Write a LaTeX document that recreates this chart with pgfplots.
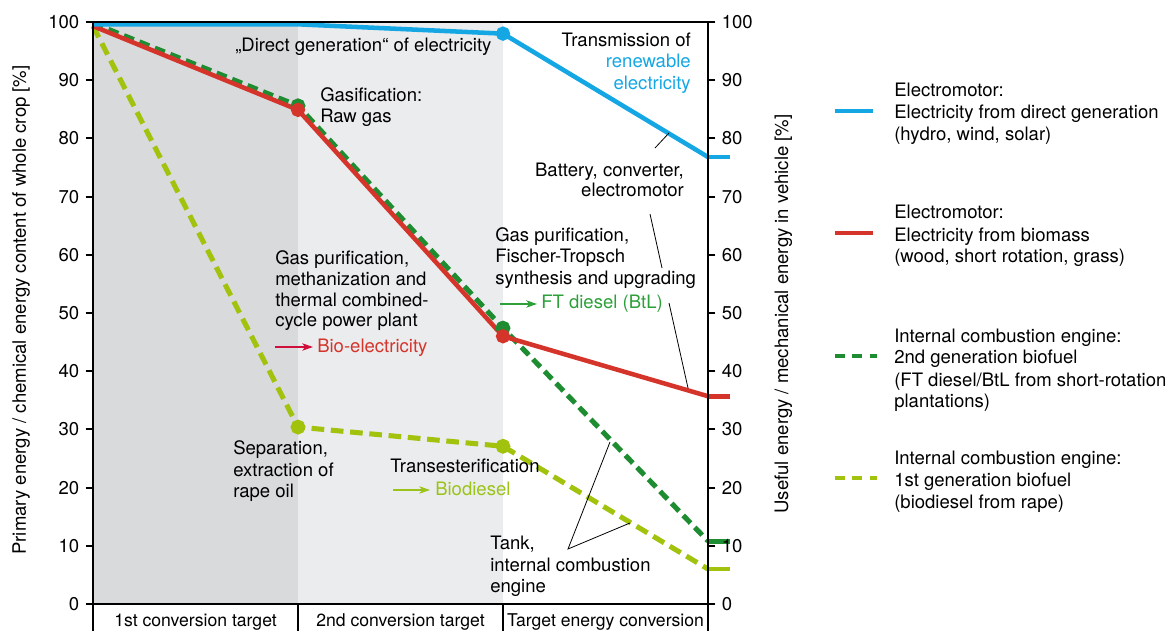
\documentclass[border=0pt]{standalone}
\usepackage{fontspec}
\setmainfont{TeX Gyre Heros}
\usepackage{pgfplots}
\pgfplotsset{compat=1.18}
\usetikzlibrary{arrows.meta}

\definecolor{cblue}{RGB}{20,167,228}
\definecolor{cred}{RGB}{213,52,42}
\definecolor{cdkgreen}{RGB}{30,140,48}
\definecolor{cltgreen}{RGB}{162,195,14}
\definecolor{bgdark}{RGB}{217,218,220}
\definecolor{bglight}{RGB}{235,236,238}
\definecolor{arrred}{RGB}{208,16,60}
\definecolor{ftgreen}{RGB}{45,160,58}
\definecolor{biogreen}{RGB}{155,195,25}

\newcommand\mainfont{\fontsize{13.9pt}{16.5pt}\selectfont}

\pgfplotsset{
  frame/.style={
    at={(0,0)}, anchor=south west,
    scale only axis, width=461.25pt, height=436.5pt,
    xmin=0, xmax=3, ymin=0, ymax=100,
    xtick=\empty, ytick={0,10,...,100},
    tick align=outside, major tick length=5.5pt,
    tick style={black, line width=1.5pt},
    axis line style={black, line width=2.2pt},
    tick label style={font=\mainfont, /pgf/number format/assume math mode=true},
  },
  series/.style={line width=3.4pt, mark=*, mark indices={2,3}, mark size=3.6pt, mark options={solid}},
  stub/.style={line width=3.6pt, forget plot},
}

\begin{document}
\mainfont
\begin{tikzpicture}
\path[use as bounding box] (-69.75pt,-20.25pt) rectangle (810.75pt,453pt);

\begin{axis}[frame, ytick pos=left, axis on top, clip=false]
  \fill[bgdark] (axis cs:0,0) rectangle (axis cs:1,100);
  \fill[bglight] (axis cs:1,0) rectangle (axis cs:2,100);

  % 1st generation biofuel (biodiesel from rape)
  \addplot[series, cltgreen, line width=3.8pt, dash pattern=on 9.5pt off 5pt] coordinates {(0,99.3) (1,30.4) (2,27.1) (3,6.0)};
  \addplot[stub, cltgreen] coordinates {(3,6.0) (3.107,6.0)};
  % 2nd generation biofuel (FT diesel / BtL)
  \addplot[series, cdkgreen, line width=3.8pt, dash pattern=on 8pt off 4.5pt] coordinates {(0,99.8) (1,85.6) (2,47.4) (3,10.8)};
  \addplot[stub, cdkgreen] coordinates {(3,10.8) (3.107,10.8)};
  % electricity from biomass
  \addplot[series, cred] coordinates {(0,99.3) (1,84.9) (2,46.0) (3,35.7)};
  \addplot[stub, cred] coordinates {(3,35.7) (3.107,35.7)};
  % electricity from direct generation
  \addplot[series, cblue, mark indices={3}] coordinates {(0,99.6) (1,99.6) (2,98.0) (3,76.8)};
  \addplot[stub, cblue] coordinates {(3,76.8) (3.107,76.8)};
\end{axis}

\begin{axis}[frame, axis x line=none, axis y line*=right]
  \addplot[draw=none] coordinates {(0,0)};
\end{axis}

% annotations, coordinates in pixels of the 1174x631 layout
\begin{scope}[x=0.75pt, y=-0.75pt, shift={(-69.75pt,453pt)}, every node/.style={inner sep=0pt}]
  % conversion stage boxes
  \foreach \xx in {93,298,503,708} \draw[line width=1.4pt] (\xx,604) -- (\xx,640);
  \begin{scope}[every node/.style={inner sep=0pt, anchor=base, font=\fontsize{13.2pt}{15pt}\selectfont}]
    \node at (195.5,627) {1st conversion target};
    \node at (400.5,627) {2nd conversion target};
    \node at (605.5,627) {Target energy conversion};
  \end{scope}

  % axis titles
  \node[rotate=90, anchor=base] at (26,310) {Primary energy / chemical energy content of whole crop [\%]};
  \node[rotate=90, anchor=base] at (788,314) {Useful energy / mechanical energy in vehicle [\%]};

  % texts in the plot
  \node[anchor=base west] at (235,52) {„Direct generation“ of electricity};
  \node[anchor=base east] at (691,47) {Transmission of};
  \node[anchor=base east, text=cblue] at (691,68) {renewable};
  \node[anchor=base east, text=cblue] at (691,90) {electricity};

  \node[anchor=base west] at (320,102) {Gasification:};
  \node[anchor=base west] at (320,123) {Raw gas};

  \node[anchor=base east] at (684,177) {Battery, converter,};
  \node[anchor=base east] at (684,197) {electromotor};
  \draw[line width=0.6pt] (655,148) -- (669,133);
  \draw[line width=0.6pt] (650,214) -- (662,268);
  \draw[line width=0.6pt] (669,303) -- (688,388);

  \node[anchor=base west] at (275,265) {Gas purification,};
  \node[anchor=base west] at (275,286) {methanization and};
  \node[anchor=base west] at (275,307) {thermal combined-};
  \node[anchor=base west] at (275,327) {cycle power plant};
  \draw[arrred, line width=1.1pt, -{Stealth[length=8pt,width=5.5pt,inset=2pt]}] (275,347) -- (313,347);
  \node[anchor=base west, text=cred] at (317,353) {Bio-electricity};

  \node[anchor=base west] at (495,242) {Gas purification,};
  \node[anchor=base west] at (495,263) {Fischer-Tropsch};
  \node[anchor=base west] at (495,285) {synthesis and upgrading};
  \draw[ftgreen, line width=1.1pt, -{Stealth[length=8pt,width=5.5pt,inset=2pt]}] (500,304) -- (537,304);
  \node[anchor=base west, text=ftgreen] at (541,309) {FT diesel (BtL)};

  \node[anchor=base west] at (233,455) {Separation,};
  \node[anchor=base west] at (233,477) {extraction of};
  \node[anchor=base west] at (233,498) {rape oil};

  \node[anchor=base west] at (390,473) {Transesterification};
  \draw[biogreen, line width=1.1pt, -{Stealth[length=8pt,width=5.5pt,inset=2pt]}] (393,490) -- (430,490);
  \node[anchor=base west, text=biogreen] at (435,496) {Biodiesel};

  \node[anchor=base west] at (490,550) {Tank,};
  \node[anchor=base west] at (490,572) {internal combustion};
  \node[anchor=base west] at (490,593) {engine};
  \draw[line width=0.6pt] (610,442) -- (568,549) -- (630,523);

  % legend
  \draw[cblue, line width=3.6pt] (835,111) -- (873,111);
  \node[anchor=base west] at (894,97) {Electromotor:};
  \node[anchor=base west] at (894,119) {Electricity from direct generation};
  \node[anchor=base west] at (894,141) {(hydro, wind, solar)};

  \draw[cred, line width=3.6pt] (835,233) -- (873,233);
  \node[anchor=base west] at (894,219) {Electromotor:};
  \node[anchor=base west] at (894,242) {Electricity from biomass};
  \node[anchor=base west] at (894,263) {(wood, short rotation, grass)};

  \draw[cdkgreen, line width=3.6pt, dash pattern=on 7.5pt off 5.6pt] (835,356) -- (877,356);
  \node[anchor=base west] at (894,343) {Internal combustion engine:};
  \node[anchor=base west] at (894,364) {2nd generation biofuel};
  \node[anchor=base west] at (894,387) {(FT diesel/BtL from short-rotation};
  \node[anchor=base west] at (894,408) {plantations)};

  \draw[cltgreen, line width=3.6pt, dash pattern=on 7.5pt off 5.6pt] (835,478) -- (877,478);
  \node[anchor=base west] at (894,465) {Internal combustion engine:};
  \node[anchor=base west] at (894,487) {1st generation biofuel};
  \node[anchor=base west] at (894,509) {(biodiesel from rape)};
\end{scope}
\end{tikzpicture}
\end{document}
